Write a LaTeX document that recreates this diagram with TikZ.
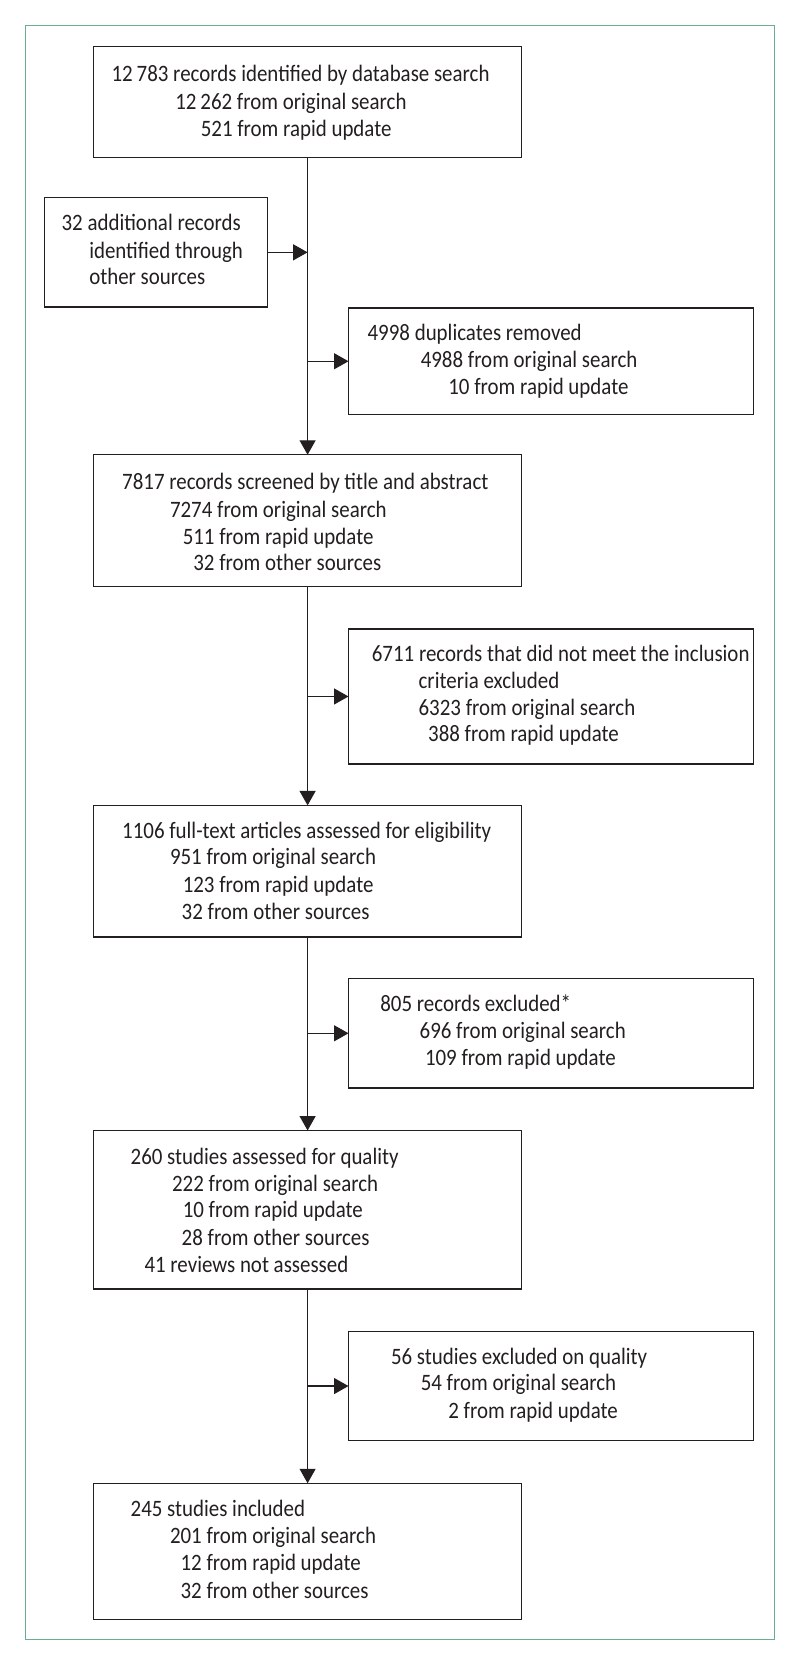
\documentclass[tikz,border=0pt]{standalone}
\usepackage{fontspec}
\setmainfont{Carlito}[FakeStretch=0.89]
\usetikzlibrary{arrows.meta,calc}
\definecolor{framegreen}{RGB}{102,176,142}
\definecolor{ink}{RGB}{35,31,32}
\newcommand\tline[4]{\node[txt] (#1) at (#2,#3) {#4};}
\newcommand\boxat[5]{\node[box,minimum width={(#4-#2)*1.0624pt},minimum height={(#5-#3)*1.0624pt}] (#1) at (#2,#3) {};}
\begin{document}
\begin{tikzpicture}[x={(1.0624pt,0pt)},y={(0pt,-1.0624pt)},
  box/.style={draw=ink,line width=1.4pt,anchor=north west,inner sep=0pt,outer sep=0pt,fill=none},
  txt/.style={anchor=base west,inner sep=0pt,outer sep=0pt,text=ink,font=\fontsize{23.5}{26}\selectfont},
  arr/.style={draw=ink,line width=1.3pt,-{Triangle[length=14.5pt,width=16pt]}},
  lnk/.style={draw=ink,line width=1.3pt}]
\useasboundingbox (0,0) rectangle (753,1568);
\draw[framegreen,line width=1.5pt] (24,24) rectangle (729,1543);
% boxes
\boxat{b1}{88}{44}{491}{148}
\boxat{b2}{42}{186}{252}{289}
\boxat{b3}{328}{290}{709}{390}
\boxat{b4}{88}{428}{491}{552}
\boxat{b5}{328}{592}{709}{719}
\boxat{b6}{88}{758}{491}{882}
\boxat{b7}{328}{921}{709}{1024}
\boxat{b8}{88}{1064}{491}{1213}
\boxat{b9}{328}{1253}{709}{1356}
\boxat{b10}{88}{1396}{491}{1524}
% texts
\tline{t1a}{105}{77}{12\,783 records identified by database search}
\tline{t1b}{165}{103}{12\,262 from original search}
\tline{t1c}{189}{128}{521 from rapid update}
\tline{t2a}{58}{217}{32 additional records}
\tline{t2b}{84}{243}{identified through}
\tline{t2c}{84}{268}{other sources}
\tline{t3a}{346}{320}{4998 duplicates removed}
\tline{t3b}{396}{346}{4988 from original search}
\tline{t3c}{422}{371}{10 from rapid update}
\tline{t4a}{115}{461}{7817 records screened by title and abstract}
\tline{t4b}{160}{487}{7274 from original search}
\tline{t4c}{172}{512}{511 from rapid update}
\tline{t4d}{182}{537}{32 from other sources}
\tline{t5a}{350}{623}{6711 records that did not meet the inclusion}
\tline{t5b}{394}{648}{criteria excluded}
\tline{t5c}{394}{673}{6323 from original search}
\tline{t5d}{403}{698}{388 from rapid update}
\tline{t6a}{115}{789}{1106 full-text articles assessed for eligibility}
\tline{t6b}{160}{814}{951 from original search}
\tline{t6c}{172}{840}{123 from rapid update}
\tline{t6d}{171}{865}{32 from other sources}
\tline{t7a}{358}{952}{805 records excluded*}
\tline{t7b}{395}{977}{696 from original search}
\tline{t7c}{400}{1003}{109 from rapid update}
\tline{t8a}{123}{1096}{260 studies assessed for quality}
\tline{t8b}{162}{1121}{222 from original search}
\tline{t8c}{172}{1146}{10 from rapid update}
\tline{t8d}{171}{1172}{28 from other sources}
\tline{t8e}{136}{1198}{41 reviews not assessed}
\tline{t9a}{368}{1284}{56 studies excluded on quality}
\tline{t9b}{396}{1309}{54 from original search}
\tline{t9c}{422}{1335}{2 from rapid update}
\tline{t10a}{123}{1427}{245 studies included}
\tline{t10b}{160}{1453}{201 from original search}
\tline{t10c}{170}{1478}{12 from rapid update}
\tline{t10d}{170}{1504}{32 from other sources}
% connectors
\draw[arr] (b1.south) -- (b4.north);
\draw[arr] (b2.east) -- (b2.east -| b1.south);
\draw[arr] (b3.west -| b1.south) -- (b3.west);
\draw[arr] (b4.south) -- (b6.north);
\draw[arr] (b5.west -| b4.south) -- (b5.west);
\draw[arr] (b6.south) -- (b8.north);
\draw[arr] (b7.west -| b6.south) -- (b7.west);
\draw[arr] (b8.south) -- (b10.north);
\draw[arr] (b9.west -| b8.south) -- (b9.west);
\end{tikzpicture}
\end{document}
